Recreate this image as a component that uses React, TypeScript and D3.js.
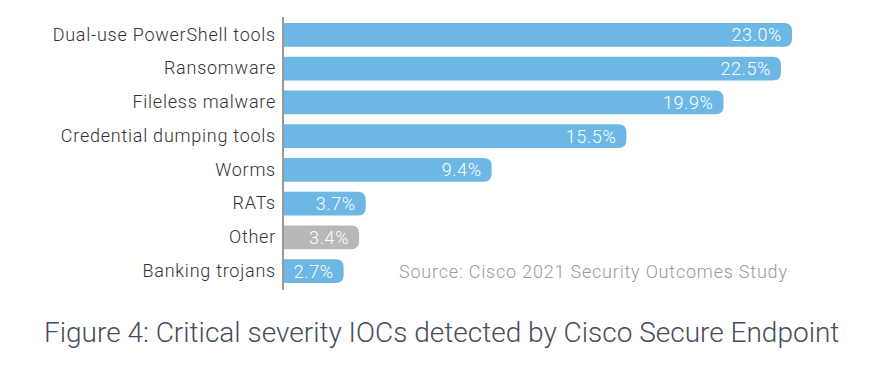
import { useEffect, useRef } from 'react';
import * as d3 from 'd3';

const categories = [
  'Dual-use PowerShell tools',
  'Ransomware',
  'Fileless malware',
  'Credential dumping tools',
  'Worms',
  'RATs',
  'Other',
  'Banking trojans',
];
const values = [23.0, 22.5, 19.9, 15.5, 9.4, 3.7, 3.4, 2.7];
const greyCategories = ['Other'];

const sourceNote = 'Source: Cisco 2021 Security Outcomes Study';
const caption = 'Figure 4: Critical severity IOCs detected by Cisco Secure Endpoint';

const W = 878;
const H = 384;

export default function App() {
  const svgRef = useRef<SVGSVGElement>(null);

  useEffect(() => {
    const svg = d3.select(svgRef.current);
    svg.selectAll('*').remove();

    const font = 'Roboto, "Open Sans", sans-serif';
    const axisX = 283;
    const x = d3.scaleLinear().domain([0, 23]).range([axisX + 1, 792]);
    const y = d3
      .scaleBand()
      .domain(categories)
      .range([18, 288])
      .paddingInner(0.29)
      .paddingOuter(0.145);

    const data = categories.map((c, i) => ({ name: c, value: values[i] }));
    const r = 8;
    const bh = y.bandwidth();

    // bars: square left edge, rounded right end
    svg
      .append('g')
      .selectAll('path')
      .data(data)
      .join('path')
      .attr('d', (d) => {
        const x0 = x(0);
        const x1 = x(d.value);
        const y0 = y(d.name)!;
        const y1 = y0 + bh;
        return `M${x0},${y0}H${x1 - r}Q${x1},${y0} ${x1},${y0 + r}V${y1 - r}Q${x1},${y1} ${x1 - r},${y1}H${x0}Z`;
      })
      .attr('fill', (d) => (greyCategories.includes(d.name) ? '#b8b8b8' : '#6cb7e3'));

    // value labels
    svg
      .append('g')
      .selectAll('text')
      .data(data)
      .join('text')
      .attr('x', (d) => x(d.value) - 10)
      .attr('y', (d) => y(d.name)! + bh / 2)
      .attr('dy', '0.36em')
      .attr('text-anchor', 'end')
      .attr('fill', '#fff')
      .style('font-family', font)
      .style('font-weight', 300)
      .style('font-size', '18px')
      .style('letter-spacing', '0.6px')
      .text((d) => `${d.value.toFixed(1)}%`);

    // category axis
    const axis = svg
      .append('g')
      .attr('transform', `translate(${axisX},0)`)
      .call(d3.axisLeft(y).tickSize(0).tickPadding(7));
    axis.select('.domain').remove();
    axis
      .selectAll('.tick text')
      .attr('fill', '#333')
      .style('font-family', font)
      .style('font-weight', 300)
      .style('font-size', '18px')
      .style('letter-spacing', '0.75px');

    svg
      .append('line')
      .attr('x1', axisX)
      .attr('x2', axisX)
      .attr('y1', 17)
      .attr('y2', 290)
      .attr('stroke', '#555')
      .attr('stroke-width', 1.2);

    svg
      .append('text')
      .attr('x', 399)
      .attr('y', y('Banking trojans')! + bh / 2)
      .attr('dy', '0.36em')
      .attr('fill', '#999')
      .style('font-family', font)
      .style('font-weight', 300)
      .style('font-size', '18px')
      .style('letter-spacing', '0.8px')
      .text(sourceNote);

    svg
      .append('text')
      .attr('x', 44)
      .attr('y', 342)
      .attr('fill', '#474c5c')
      .style('font-family', font)
      .style('font-weight', 300)
      .style('font-size', '28px')
      .text(caption);
  }, []);

  return (
    <svg
      ref={svgRef}
      width={W}
      height={H}
      style={{ position: 'absolute', left: 0, top: 0, background: '#fff' }}
    />
  );
}
